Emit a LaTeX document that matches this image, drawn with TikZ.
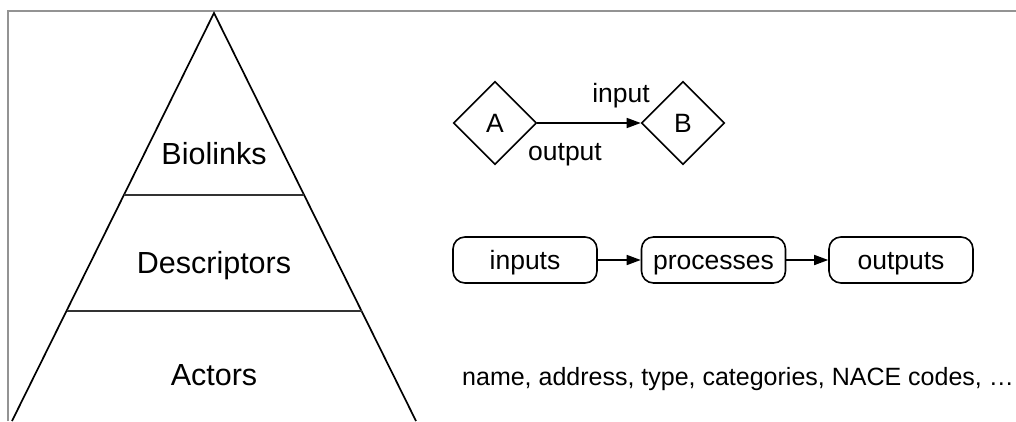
\documentclass[tikz,border=0pt]{standalone}
\usepackage{fontspec}
\setmainfont{Liberation Sans}
\usetikzlibrary{shapes.geometric,arrows.meta}
\begin{document}
\begin{tikzpicture}[x=1pt,y=-1pt,
  line/.style={line width=1.7pt,black},
  frame/.style={line width=1.4pt,gray!85},
  levellabel/.style={font=\fontsize{30.5}{34}\selectfont,anchor=base,inner sep=0pt},
  smalltext/.style={font=\fontsize{26.5}{30}\selectfont,inner sep=0pt},
  attrtext/.style={font=\fontsize{25}{30}\selectfont,inner sep=0pt},
  biolink/.style={diamond,draw,line width=1.6pt,minimum width=83pt,minimum height=83pt,inner sep=0pt,aspect=1},
  stage/.style={draw,line width=1.6pt,rounded corners=12pt,minimum width=144pt,minimum height=46pt,inner sep=0pt},
  flow/.style={line width=1.6pt,-{Triangle[length=14pt,width=10pt]}}
]
\useasboundingbox (0,0) rectangle (1016,421);

% frame along top and left
\coordinate (ftl) at (8,11);
\coordinate (ftr) at (1016,11);
\coordinate (fbl) at (8,421);
\draw[frame] (fbl) -- (ftl) -- (ftr);

% pyramid of levels
\coordinate (apex) at (214,13);
\coordinate (baseL) at (12,421);
\coordinate (baseR) at (416,421);
\coordinate (l1L) at (124,195);
\coordinate (l1R) at (304,195);
\coordinate (l2L) at (66.5,311);
\coordinate (l2R) at (361.5,311);
\draw[line,line join=miter] (baseL) -- (apex) -- (baseR);
\draw[line,gray!40!black] (l1L) -- (l1R);
\draw[line,gray!40!black] (l2L) -- (l2R);

\node[levellabel] (biolinks) at (214,164) {Biolinks};
\node[levellabel] (descriptors) at (214,273) {Descriptors};
\node[levellabel] (actors) at (214,385) {Actors};

% biolinks: A -> B
\node[biolink] (A) at (495,123) {};
\node[smalltext,anchor=base] (Alabel) at (495,132) {A};
\node[biolink] (B) at (683,123) {};
\node[smalltext,anchor=base] (Blabel) at (683,132) {B};
\draw[flow] (A.east) -- (B.west);
\node[smalltext,anchor=base] (inlabel) at (621,102) {input};
\node[smalltext,anchor=base] (outlabel) at (565,160) {output};

% descriptors: inputs -> processes -> outputs
\node[stage] (inputs) at (525,260) {};
\node[smalltext,anchor=base] (inputstxt) at (525,269) {inputs};
\node[stage] (processes) at (713.5,260) {};
\node[smalltext,anchor=base] (processestxt) at (713.5,269) {processes};
\node[stage] (outputs) at (901,260) {};
\node[smalltext,anchor=base] (outputstxt) at (901,269) {outputs};
\draw[flow] (inputs) -- (processes);
\draw[flow] (processes) -- (outputs);

% actors: attributes
\node[attrtext,anchor=base west] (attrs) at (462,385) {name, address, type, categories, NACE codes, …};
\end{tikzpicture}
\end{document}
